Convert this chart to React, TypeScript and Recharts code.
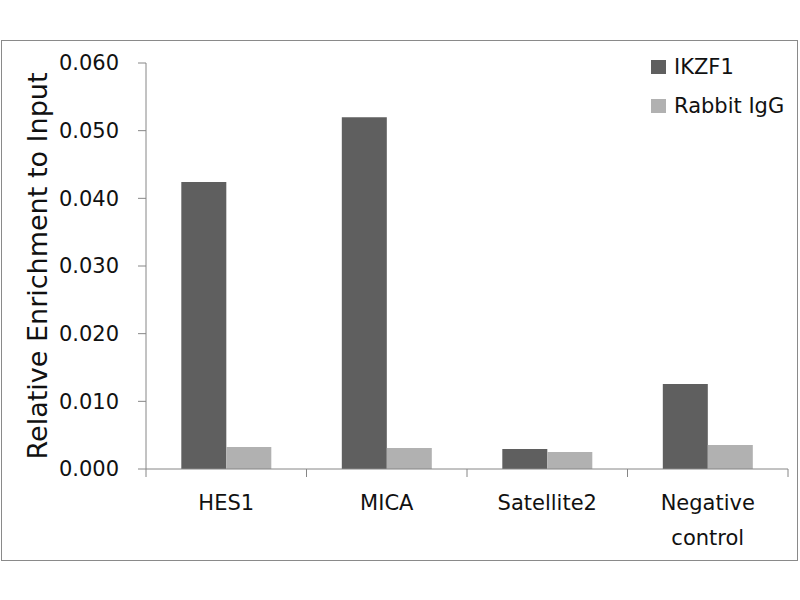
import { BarChart, Bar, XAxis, YAxis, Legend } from "recharts";

const categories = ["HES1", "MICA", "Satellite2", "Negative control"];
const ikzf1Values = [0.0424, 0.052, 0.00295, 0.01255];
const rabbitIgGValues = [0.00325, 0.0031, 0.0025, 0.00355];
const yTicks = [0, 0.01, 0.02, 0.03, 0.04, 0.05, 0.06];
const seriesNames = ["IKZF1", "Rabbit IgG"];
const seriesColors = ["#5f5f5f", "#b1b1b1"];

const data = categories.map((name, i) => ({
  name,
  ikzf1: ikzf1Values[i],
  igg: rabbitIgGValues[i],
}));

const WIDTH = 800;
const HEIGHT = 600;
const Y_AXIS_W = 146;
const RIGHT = 12;
const BAND = (WIDTH - Y_AXIS_W - RIGHT) / categories.length;
const FONT = "'DejaVu Sans', sans-serif";
const AXIS_COLOR = "#868686";

// category label centred in its band, tick marks on the band edges
function CategoryTick(props: any) {
  const { x, y, payload, index } = props;
  const lines = String(payload.value).split(" ");
  return (
    <g>
      <line x1={x - BAND / 2} x2={x - BAND / 2} y1={y} y2={y + 8} stroke={AXIS_COLOR} />
      {index === categories.length - 1 && (
        <line x1={x + BAND / 2} x2={x + BAND / 2} y1={y} y2={y + 8} stroke={AXIS_COLOR} />
      )}
      <text x={x} y={y + 34} textAnchor="middle" dominantBaseline="central" fontSize={21} fill="#111">
        {lines.map((l, i) => (
          <tspan key={i} x={x} dy={i === 0 ? 0 : 35}>
            {l}
          </tspan>
        ))}
      </text>
    </g>
  );
}

function LegendBox() {
  return (
    <div style={{ fontFamily: FONT, fontSize: 21, color: "#111" }}>
      {seriesNames.map((name, i) => (
        <div key={name} style={{ display: "flex", alignItems: "center", height: 39.5 }}>
          <span style={{ width: 15, height: 14, background: seriesColors[i], marginRight: 8 }} />
          <span>{name}</span>
        </div>
      ))}
    </div>
  );
}

export default function App() {
  return (
    <div style={{ position: "relative", width: WIDTH, height: HEIGHT, background: "#fff", fontFamily: FONT }}>
      <style>{"body { margin: 0; }"}</style>
      <svg width={WIDTH} height={HEIGHT} style={{ position: "absolute", left: 0, top: 0 }}>
        <rect x={1.5} y={40.5} width={796} height={520} fill="none" stroke="#8a8a8a" />
      </svg>
      <BarChart
        width={WIDTH}
        height={HEIGHT}
        data={data}
        margin={{ top: 63, right: RIGHT, left: 0, bottom: 41 }}
        barCategoryGap="22%"
        barGap={0}
      >
        <XAxis
          dataKey="name"
          height={90}
          tickLine={false}
          tickSize={0}
          tickMargin={0}
          stroke={AXIS_COLOR}
          interval={0}
          tick={<CategoryTick />}
        />
        <YAxis
          width={Y_AXIS_W}
          domain={[0, 0.06]}
          ticks={yTicks}
          tickFormatter={(v: number) => v.toFixed(3)}
          tickSize={8}
          tickMargin={19}
          stroke={AXIS_COLOR}
          tick={{ fill: "#111", fontSize: 21 }}
          label={{
            content: () => (
              <text
                x={37}
                y={266}
                transform="rotate(-90, 37, 266)"
                textAnchor="middle"
                dominantBaseline="central"
                fontSize={27}
                fill="#111"
              >
                Relative Enrichment to Input
              </text>
            ),
          }}
        />
        <Legend
          layout="horizontal"
          verticalAlign="middle"
          align="center"
          content={<LegendBox />}
          wrapperStyle={{ left: 651, top: 47, width: 150 }}
        />
        <Bar dataKey="ikzf1" name={seriesNames[0]} fill={seriesColors[0]} isAnimationActive={false} />
        <Bar dataKey="igg" name={seriesNames[1]} fill={seriesColors[1]} isAnimationActive={false} />
      </BarChart>
    </div>
  );
}
